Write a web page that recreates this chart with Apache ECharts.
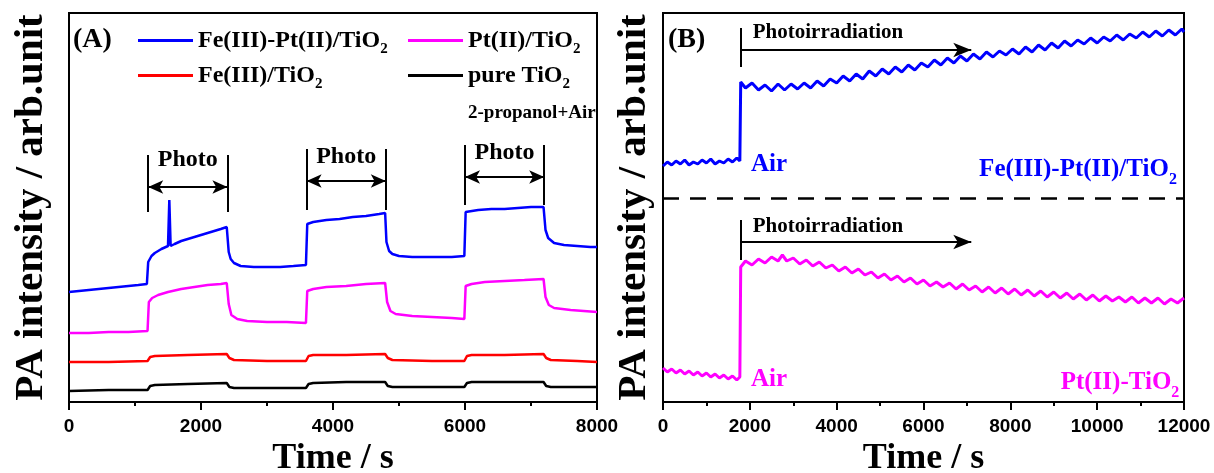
<!DOCTYPE html>
<html>
<head>
<meta charset="utf-8">
<title>PA intensity vs time</title>
<script src="https://cdn.jsdelivr.net/npm/echarts@6/dist/echarts.min.js"></script>
<style>
html, body { margin: 0; padding: 0; background: #fff; }
#chart { width: 1214px; height: 473px; }
</style>
</head>
<body>
<div id="chart"></div>
<script>
// ---- panel A: PA signal (arb.) vs time (s), 2-propanol + air, light on/off
const ticksA = [0, 2000, 4000, 6000, 8000];
const blueA = [
    [0,110],[150,111],[300,112],[450,113],[600,114],[750,115],[900,116],[1050,117],[1180,118],
    [1200,140],[1250,146],[1300,149],[1400,153],[1500,156],[1520,202],[1540,156],[1600,158],[1700,161],
    [1800,163],[1900,165],[2000,167],[2100,169],[2200,171],[2300,173],[2390,175],
    [2420,150],[2450,143],[2500,139],[2600,136],[2800,135],[3000,135],[3200,135],[3400,136],[3590,137],
    [3610,178],[3700,180],[3900,182],[4100,183],[4300,185],[4500,186],[4700,188],[4790,189],
    [4810,160],[4850,151],[4900,148],[5000,146],[5200,145],[5500,145],[5800,145],[5990,146],
    [6010,190],[6200,192],[6400,193],[6600,193],[6800,194],[7000,195],[7190,195],
    [7220,172],[7260,164],[7350,159],[7500,157],[7700,156],[7900,155],[8000,155]
];
const pinkA = [
    [0,69],[300,69],[600,70],[900,70],[1190,71],
    [1210,100],[1260,104],[1350,107],[1500,110],[1700,113],[1900,115],[2100,117],[2300,118],[2390,119],
    [2420,98],[2460,87],[2550,83],[2700,81],[3000,80],[3300,80],[3590,79],
    [3610,111],[3700,113],[3900,115],[4200,116],[4500,118],[4790,119],
    [4820,100],[4870,91],[4950,88],[5200,86],[5500,85],[5800,84],[5990,83],
    [6010,116],[6100,118],[6300,120],[6600,121],[6900,122],[7190,123],
    [7220,105],[7270,97],[7350,94],[7600,92],[7800,91],[8000,90]
];
const redA = [
    [0,40],[600,40],[1190,41],[1230,45],[1300,46],[1800,47],[2390,48],[2430,44],[2500,42],[3000,41],
    [3590,41],[3630,46],[3700,47],[4200,47],[4790,48],[4830,44],[4900,42],[5500,41],[5990,41],
    [6030,46],[6100,47],[6600,47],[7190,48],[7230,44],[7300,42],[7700,41],[8000,40]
];
const blackA = [
    [0,11],[600,12],[1190,12],[1230,16],[1300,17],[1800,18],[2390,19],[2430,15],[2500,14],[3000,14],
    [3590,14],[3630,18],[3700,19],[4200,20],[4790,20],[4830,16],[4900,15],[5500,15],[5990,15],
    [6030,19],[6100,20],[6600,20],[7190,20],[7230,16],[7300,15],[7700,15],[8000,15]
];
// [light on, light off, bracket bottom, bracket top, arrow level, text level]
const photoA = [
    [1200, 2400, 190, 247, 215, 242],
    [3600, 4800, 192, 253, 221, 245],
    [6000, 7200, 197, 257, 225, 249]
];

// ---- panel B: long photoirradiation, upper and lower trace
const ticksB = [0, 2000, 4000, 6000, 8000, 10000, 12000];
const blueB = [
    [0,236],[100,240],[200,237],[300,241],[400,238],[500,242],[600,237],[700,240],[800,238],[900,242],
    [1000,239],[1100,243],[1200,238],[1300,241],[1400,239],[1500,243],[1600,240],[1700,244],[1770,241],
    [1790,320],[1900,314],[2050,319],[2200,312],[2350,317],[2500,311],[2650,318],[2800,312],[2950,318],
    [3100,313],[3250,319],[3400,314],[3550,321],[3700,316],[3850,323],[4000,319],[4150,326],[4300,321],
    [4450,328],[4600,323],[4750,331],[4900,326],[5050,333],[5200,328],[5350,335],[5500,330],[5650,337],
    [5800,332],[5950,339],[6100,335],[6250,342],[6400,337],[6550,344],[6700,339],[6850,346],[7000,341],
    [7150,348],[7300,343],[7450,350],[7600,345],[7750,351],[7900,347],[8050,353],[8200,348],[8350,355],
    [8500,350],[8650,357],[8800,352],[8950,359],[9100,354],[9250,361],[9400,356],[9550,362],[9700,358],
    [9850,364],[10000,359],[10150,365],[10300,361],[10450,367],[10600,362],[10750,368],[10900,364],
    [11050,370],[11200,365],[11350,371],[11500,366],[11650,372],[11800,367],[11950,373],[12000,370]
];
const pinkB = [
    [0,34],[100,30],[200,33],[300,29],[400,32],[500,28],[600,31],[700,27],[800,30],[900,26],
    [1000,29],[1100,25],[1200,28],[1300,24],[1400,27],[1500,23],[1600,26],[1700,22],[1770,25],
    [1790,135],[1900,141],[2050,137],[2200,143],[2350,139],[2500,145],[2650,141],[2750,147],[2850,141],
    [3000,144],[3150,138],[3300,142],[3450,136],[3600,140],[3750,134],[3900,137],[4050,131],[4200,135],
    [4350,129],[4500,133],[4650,127],[4800,130],[4950,124],[5100,128],[5250,122],[5400,126],[5550,120],
    [5700,124],[5850,118],[6000,122],[6150,116],[6300,120],[6450,115],[6600,119],[6750,113],[6900,118],
    [7050,112],[7200,116],[7350,110],[7500,115],[7650,109],[7800,114],[7950,108],[8100,113],[8250,107],
    [8400,112],[8550,106],[8700,111],[8850,105],[9000,110],[9150,104],[9300,109],[9450,103],[9600,108],
    [9750,102],[9900,107],[10050,101],[10200,106],[10350,101],[10500,105],[10650,100],[10800,105],
    [10950,99],[11100,104],[11250,99],[11400,104],[11550,98],[11700,103],[11850,99],[12000,104]
];
// [light on, arrow end, bar bottom, bar top, arrow level, text x, text level]
const photoB = [
    [1800, 7100, 335, 374, 352, 3800, 369],
    [1800, 7100, 142, 182, 160, 3800, 175]
];
const dividerB = 204;

const BLUE = '#0000ff', PINK = '#ff00ff', RED = '#ff0000', BLACK = '#000000';
const SERIF = '"Liberation Serif", "Times New Roman", serif';
const SANS = '"Liberation Sans", Arial, sans-serif';

// "TiO2" -> TiO with subscript 2
function sub(text) {
    return '{b|' + text.slice(0, -1) + '}{s|' + text.slice(-1) + '}';
}
function rich(color, size) {
    const small = Math.round(size * 0.62);
    const drop = Math.round(size * 0.75);
    return {
        b: { fontFamily: SERIF, fontWeight: 'bold', fontSize: size, color: color, lineHeight: size + 6 },
        // padding on top pushes the digit down below the baseline
        s: { fontFamily: SERIF, fontWeight: 'bold', fontSize: small, color: color, lineHeight: small, padding: [drop, 0, 0, 0] },
        p: { fontFamily: SERIF, fontWeight: 'bold', fontSize: size, color: color, lineHeight: size + 6 }
    };
}
function textPoint(x, y, str, color, size, withSub) {
    return {
        coord: [x, y],
        label: {
            show: true,
            position: 'inside',
            formatter: withSub ? sub(str) : '{p|' + str + '}',
            rich: rich(color, size)
        }
    };
}

function xAxis(gridIndex, ticks) {
    return {
        type: 'value',
        gridIndex: gridIndex,
        min: ticks[0],
        max: ticks[ticks.length - 1],
        interval: ticks[1] - ticks[0],
        name: 'Time / s',
        nameLocation: 'middle',
        nameGap: 34,
        nameTextStyle: { fontFamily: SERIF, fontWeight: 'bold', fontSize: 36, color: '#000' },
        axisLine: { show: true, lineStyle: { color: '#000', width: 2 } },
        axisTick: { show: true, inside: false, length: 8, lineStyle: { color: '#000', width: 2 } },
        minorTick: { show: true, splitNumber: 2, length: 4, lineStyle: { color: '#000', width: 2 } },
        axisLabel: {
            fontFamily: SANS, fontWeight: 'bold', fontSize: 19, color: '#000', margin: 15,
            formatter: function (v) { return String(v); }
        },
        splitLine: { show: false }
    };
}
function yAxis(gridIndex, gap) {
    return {
        type: 'value',
        gridIndex: gridIndex,
        min: 0,
        max: 389,
        name: 'PA intensity / arb.unit',
        nameLocation: 'middle',
        nameGap: gap,
        nameTextStyle: { fontFamily: SERIF, fontWeight: 'bold', fontSize: 41, color: '#000' },
        axisLine: { show: true, lineStyle: { color: '#000', width: 2 } },
        axisTick: { show: false },
        axisLabel: { show: false },
        splitLine: { show: false }
    };
}
function lineSeries(name, data, color, axisIndex, width) {
    return {
        name: name,
        type: 'line',
        xAxisIndex: axisIndex,
        yAxisIndex: axisIndex,
        data: data,
        showSymbol: false,
        symbol: 'none',
        lineStyle: { color: color, width: width },
        itemStyle: { color: color }
    };
}

// annotation marks for panel A (on the black trace)
const linesA = [], pointsA = [];
photoA.forEach(function (p) {
    linesA.push([{ coord: [p[0], p[2]] }, { coord: [p[0], p[3]] }]);
    linesA.push([{ coord: [p[1], p[2]] }, { coord: [p[1], p[3]] }]);
    linesA.push([
        { coord: [p[0], p[4]], symbol: 'arrow', symbolSize: [10, 15] },
        { coord: [p[1], p[4]], symbol: 'arrow', symbolSize: [10, 15] }
    ]);
    pointsA.push(textPoint((p[0] + p[1]) / 2, p[5], 'Photo', BLACK, 24, false));
});

// annotation marks for panel B (on the upper trace)
const linesB = [{ yAxis: dividerB, lineStyle: { type: [16, 11], width: 2.5, color: '#000' } }];
const pointsB = [];
photoB.forEach(function (p) {
    linesB.push([{ coord: [p[0], p[2]] }, { coord: [p[0], p[3]] }]);
    linesB.push([
        { coord: [p[0], p[4]] },
        { coord: [p[1], p[4]], symbol: 'arrow', symbolSize: [11, 18] }
    ]);
    pointsB.push(textPoint(p[5], p[6], 'Photoirradiation', BLACK, 21, false));
});
pointsB.push(textPoint(2441, 237, 'Air', BLUE, 25, false));
pointsB.push(textPoint(2441, 22, 'Air', PINK, 25, false));
pointsB.push(textPoint(9559, 232, 'Fe(III)-Pt(II)/TiO2', BLUE, 25, true));
pointsB.push(textPoint(10526, 19, 'Pt(II)-TiO2', PINK, 25, true));

function marks(lines, points) {
    return {
        markLine: {
            silent: true,
            symbol: ['none', 'none'],
            label: { show: false },
            lineStyle: { color: '#000', width: 2, type: 'solid' },
            emphasis: { disabled: true },
            data: lines
        },
        markPoint: {
            silent: true,
            symbol: 'rect',
            symbolSize: 0,
            itemStyle: { color: 'rgba(0,0,0,0)' },
            data: points
        }
    };
}

const blackSeries = Object.assign(lineSeries('pure TiO2', blackA, BLACK, 0, 2.5), marks(linesA, pointsA));
const blueBSeries = Object.assign(lineSeries('Fe(III)-Pt(II)/TiO2 (B)', blueB, BLUE, 1, 3), marks(linesB, pointsB));

const legendBase = {
    orient: 'vertical',
    top: 24,
    padding: 0,
    itemGap: 2,
    itemWidth: 55,
    itemHeight: 3,
    icon: 'rect',
    selectedMode: false,
    formatter: sub,
    textStyle: { rich: rich(BLACK, 24) }
};

const option = {
    animation: false,
    backgroundColor: '#fff',
    title: [
        { text: '(A)', left: 73, top: 26, padding: 0, textStyle: { fontFamily: SERIF, fontWeight: 'bold', fontSize: 28, color: '#000' } },
        { text: '(B)', left: 668, top: 26, padding: 0, textStyle: { fontFamily: SERIF, fontWeight: 'bold', fontSize: 28, color: '#000' } },
        { text: '2-propanol+Air', left: 468, top: 104, padding: 0, textStyle: { fontFamily: SERIF, fontWeight: 'bold', fontSize: 19, color: '#000' } }
    ],
    legend: [
        Object.assign({ left: 138, data: ['Fe(III)-Pt(II)/TiO2', 'Fe(III)/TiO2'] }, legendBase),
        Object.assign({ left: 408, data: ['Pt(II)/TiO2', 'pure TiO2'] }, legendBase)
    ],
    grid: [
        { left: 69, top: 13, width: 528, height: 389, show: true, borderColor: '#000', borderWidth: 2, backgroundColor: 'transparent', outerBoundsMode: 'none' },
        { left: 663, top: 13, width: 521, height: 389, show: true, borderColor: '#000', borderWidth: 2, backgroundColor: 'transparent', outerBoundsMode: 'none' }
    ],
    xAxis: [xAxis(0, ticksA), xAxis(1, ticksB)],
    yAxis: [yAxis(0, 17), yAxis(1, 8)],
    series: [
        lineSeries('Fe(III)-Pt(II)/TiO2', blueA, BLUE, 0, 2.5),
        lineSeries('Pt(II)/TiO2', pinkA, PINK, 0, 2.5),
        lineSeries('Fe(III)/TiO2', redA, RED, 0, 2.5),
        blackSeries,
        blueBSeries,
        lineSeries('Pt(II)-TiO2 (B)', pinkB, PINK, 1, 3)
    ]
};

const chart = echarts.init(document.getElementById('chart'));
chart.setOption(option);
</script>
</body>
</html>
